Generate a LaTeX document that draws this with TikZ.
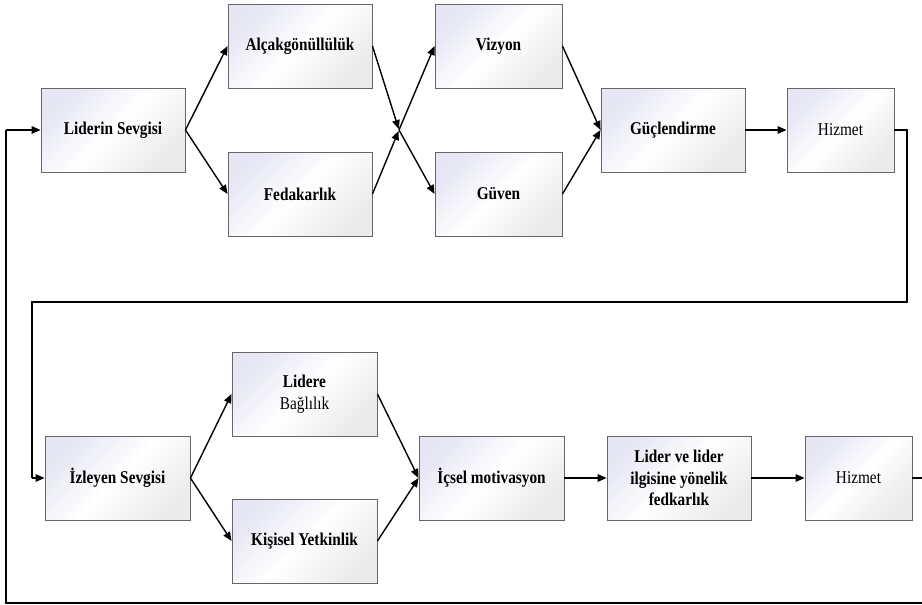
\documentclass[tikz,border=0pt]{standalone}
\usepackage{fontspec}
\setmainfont{Liberation Serif}[FakeStretch=0.85]
\usetikzlibrary{arrows.meta}
\definecolor{boxtop}{RGB}{230,230,245}
\begin{document}
\begin{tikzpicture}[x=1pt,y=-1pt,
  box/.style={draw=black!60, line width=0.9pt, top color=boxtop, bottom color=white!92!black, middle color=white, shading angle=45,
    minimum height=84pt, inner sep=2pt, align=center, font=\fontsize{18}{21.5}\selectfont\bfseries},
  plain/.style={font=\fontsize{18}{21.5}\selectfont},
  conn/.style={line width=1.4pt, -{Triangle[length=9pt,width=7.5pt]}},
  line/.style={line width=1.4pt}]
\useasboundingbox (0,0) rectangle (922,605);
\clip (0,0) rectangle (922,605);
\fill[white] (0,0) rectangle (922,605);
% top row
\node[box, minimum width=144pt] (ls) at (113,130) {Liderin Sevgisi};
\node[box, minimum width=144pt] (alc) at (300,46) {Alçakgönüllülük};
\node[box, minimum width=144pt] (fed) at (300,194) {Fedakarlık};
\node[box, minimum width=127pt] (viz) at (498.5,46) {Vizyon};
\node[box, minimum width=127pt] (guv) at (498.5,194) {Güven};
\node[box, minimum width=144pt] (gucl) at (673,130) {Güçlendirme};
\node[box, plain, minimum width=107pt] (hiz1) at (840.5,130) {Hizmet};
\coordinate (cx) at (399,130);
% bottom row
\node[box, minimum width=145pt] (izl) at (117.5,478) {İzleyen Sevgisi};
\node[box, minimum width=145pt] (lid) at (304.5,394) {Lidere\\\mdseries Bağlılık};
\node[box, minimum width=145pt] (kis) at (304.5,541) {Kişisel Yetkinlik};
\node[box, minimum width=145pt] (ics) at (491.5,478) {İçsel motivasyon};
\node[box, minimum width=144pt] (lve) at (679,478) {Lider ve lider\\ilgisine yönelik\\fedkarlık};
\node[box, plain, minimum width=107pt] (hiz2) at (858.5,478) {Hizmet};
\coordinate (r1) at (907,130);
\coordinate (r2) at (907,302);
\coordinate (l1) at (32,302);
\coordinate (l2) at (32,478);
\coordinate (e1) at (930,478);
\coordinate (e2) at (930,603);
\coordinate (e3) at (6,603);
\coordinate (e4) at (6,130);
% connectors top
\draw[conn] (ls.east) -- (alc.west);
\draw[conn] (ls.east) -- (fed.west);
\draw[conn, shorten >=1pt] (alc.east) -- (cx);
\draw[conn, shorten >=1pt] (fed.east) -- (cx);
\draw[conn] (cx) -- (viz.west);
\draw[conn] (cx) -- (guv.west);
\draw[conn] (viz.east) -- (gucl.west);
\draw[conn] (guv.east) -- (gucl.west);
\draw[conn] (gucl.east) -- (hiz1.west);
% loop from top to bottom row
\draw[line] (hiz1.east) -- (r1) -- (r2) -- (l1) -- (l2);
\draw[conn] (l2) -- (izl.west);
% connectors bottom
\draw[conn] (izl.east) -- (lid.west);
\draw[conn] (izl.east) -- (kis.west);
\draw[conn] (lid.east) -- (ics.west);
\draw[conn] (kis.east) -- (ics.west);
\draw[conn] (ics.east) -- (lve.west);
\draw[conn] (lve.east) -- (hiz2.west);
% outer loop back to top
\draw[line] (hiz2.east) -- (e1) -- (e2) -- (e3) -- (e4);
\draw[conn] (e4) -- (ls.west);
\end{tikzpicture}
\end{document}
